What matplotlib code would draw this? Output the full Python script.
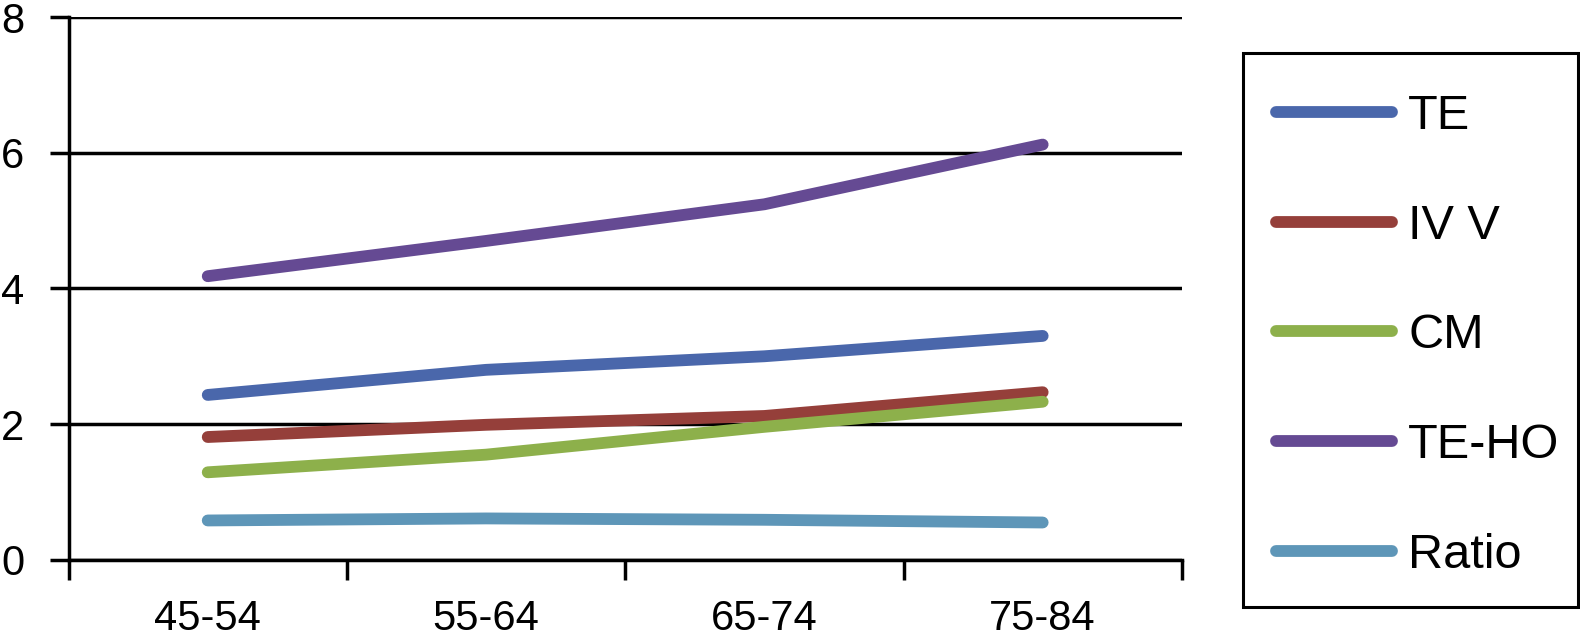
import matplotlib
matplotlib.use('Agg')
import matplotlib.pyplot as plt
from matplotlib.patches import Rectangle
import numpy as np

plt.rcParams['font.family'] = ['Liberation Sans', 'DejaVu Sans']

# ── Data ──────────────────────────────────────────────────────────────────────

age_groups = ['45-54', '55-64', '65-74', '75-84']
te = [2.43, 2.80, 3.00, 3.30]
ivv = [1.81, 1.99, 2.12, 2.47]
cm = [1.29, 1.55, 1.96, 2.33]
te_ho = [4.18, 4.70, 5.24, 6.12]
ratio = [0.58, 0.61, 0.59, 0.55]

series = [
    ('TE', te, '#4A67AB'),
    ('IV V', ivv, '#953F3A'),
    ('CM', cm, '#8DB04B'),
    ('TE-HO', te_ho, '#654A93'),
    ('Ratio', ratio, '#5E96B8'),
]

# ── Figure ────────────────────────────────────────────────────────────────────

W, H = 1580, 642
fig = plt.figure(figsize=(W / 100, H / 100), dpi=100)
ax = fig.add_axes([0.0434, 0.128, 0.7046, 0.8455])

x = np.arange(len(age_groups))
for name, vals, col in series:
    ax.plot(x, vals, color=col, linewidth=8.5, solid_capstyle='round',
            solid_joinstyle='round', label=name)

ax.set_xlim(-0.5, len(age_groups) - 0.5)
ax.set_ylim(0, 8)
ax.set_yticks([0, 2, 4, 6, 8])
ax.set_yticklabels(['0', '2', '4', '6', '8'])
ax.yaxis.grid(True, color='black', linewidth=2.5)
ax.set_axisbelow(True)

ax.set_xticks(x)
ax.set_xticklabels(age_groups)
ax.set_xticks(np.arange(len(age_groups) + 1) - 0.5, minor=True)
ax.tick_params(axis='x', which='major', length=0, pad=28, labelsize=30)
ax.tick_params(axis='x', which='minor', length=14.5, width=2.5,
               direction='out', color='black')
ax.tick_params(axis='y', length=14, width=2.5, pad=18, labelsize=30)

for side in ['top', 'right']:
    ax.spines[side].set_visible(False)
for side in ['left', 'bottom']:
    ax.spines[side].set_linewidth(2.5)

# legend frame drawn separately so the padding matches the original box
fig.patches.append(Rectangle((1243 / W, 1 - 607 / H), 335 / W, 554 / H,
                             transform=fig.transFigure, fill=False,
                             edgecolor='black', linewidth=2.2))

leg = fig.legend(loc='center left', bbox_to_anchor=(1275.5 / W, 1 - 336 / H),
                 fontsize=35, frameon=False,
                 handlelength=2.4, handletextpad=0.33, labelspacing=1.33,
                 borderpad=0, borderaxespad=0)

fig.savefig('out.png', dpi=100)
